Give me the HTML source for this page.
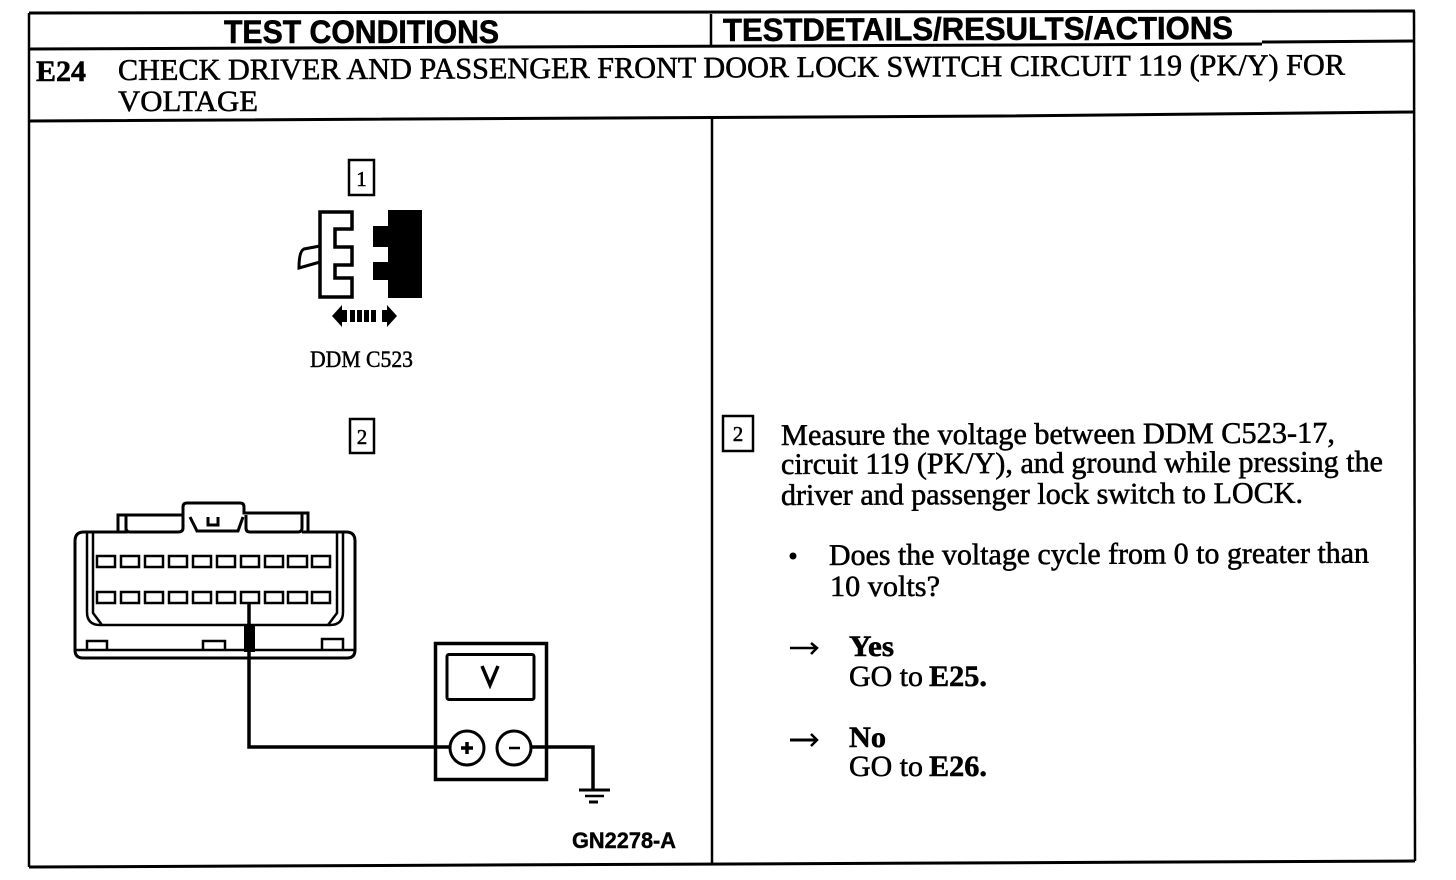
<!DOCTYPE html>
<html><head><meta charset="utf-8"><style>
html,body{margin:0;padding:0;background:#fff;width:1456px;height:880px;overflow:hidden}
svg{display:block}
text{fill:#000;font-family:"Liberation Serif",serif;font-size:30px;stroke:#000;stroke-width:.55}
.h{font-family:"Liberation Sans",sans-serif;font-weight:bold;font-size:32px;stroke-width:.6}
.b{font-weight:bold}
.s{font-size:23px;stroke-width:.5}
</style></head><body>
<svg width="1456" height="880" viewBox="0 0 1456 880" xmlns="http://www.w3.org/2000/svg">
<g fill="none" stroke="#000" stroke-width="2.5">
<polyline points="29,13 1415,11" stroke-width="3"/>
<polyline points="29,13 29,867" stroke-width="2.5"/>
<polyline points="1414,11 1415,861" stroke-width="2.5"/>
<polyline points="29,867 1415,861" stroke-width="3"/>
<polyline points="29,49 1262,44" stroke-width="3"/>
<polyline points="1262,42 1414,41" stroke-width="3"/>
<polyline points="29,121 1000,116 1414,112" stroke-width="3"/>
<line x1="711" y1="14" x2="711" y2="47"/>
<line x1="712" y1="118" x2="712" y2="864"/>
<rect x="349" y="160" width="25" height="35" stroke-width="2.5"/>
<rect x="350" y="419" width="24" height="34" stroke-width="2.5"/>
<rect x="723" y="416" width="30" height="35" stroke-width="2.5"/>
</g>

<text class="h" x="224" y="43" textLength="275" lengthAdjust="spacingAndGlyphs">TEST CONDITIONS</text>
<text class="h" x="723" y="41" textLength="510" lengthAdjust="spacingAndGlyphs" transform="rotate(-.25 723 41)">TESTDETAILS/RESULTS/ACTIONS</text>
<text class="b" x="36" y="81" textLength="50" lengthAdjust="spacingAndGlyphs">E24</text>
<text x="118" y="80" textLength="1227" lengthAdjust="spacingAndGlyphs" transform="rotate(-.25 118 80)">CHECK DRIVER AND PASSENGER FRONT DOOR LOCK SWITCH CIRCUIT 119 (PK/Y) FOR</text>
<text x="118" y="111" textLength="140" lengthAdjust="spacingAndGlyphs">VOLTAGE</text>

<text class="s" x="361.5" y="186" text-anchor="middle" style="font-size:21px">1</text>
<text class="s" x="362" y="444" text-anchor="middle" style="font-size:21px">2</text>
<text class="s" x="738" y="441" text-anchor="middle" style="font-size:21px">2</text>
<text class="s" x="310" y="367" textLength="103" lengthAdjust="spacingAndGlyphs">DDM C523</text>
<text class="h" style="font-size:22px;stroke-width:.4" x="572" y="848" textLength="104" lengthAdjust="spacingAndGlyphs">GN2278-A</text>

<text x="781" y="445" textLength="554" lengthAdjust="spacingAndGlyphs" transform="rotate(-.25 781 445)">Measure the voltage between DDM C523-17,</text>
<text x="781" y="474" textLength="602" lengthAdjust="spacingAndGlyphs" transform="rotate(-.25 781 474)">circuit 119 (PK/Y), and ground while pressing the</text>
<text x="781" y="505" textLength="522" lengthAdjust="spacingAndGlyphs" transform="rotate(-.25 781 505)">driver and passenger lock switch to LOCK.</text>
<circle cx="793" cy="556" r="3.5" fill="#000"/>
<text x="829" y="565" textLength="540" lengthAdjust="spacingAndGlyphs" transform="rotate(-.25 829 565)">Does the voltage cycle from 0 to greater than</text>
<text x="830" y="596" textLength="110" lengthAdjust="spacingAndGlyphs">10 volts?</text>
<text class="b" x="849" y="656" textLength="45" lengthAdjust="spacingAndGlyphs">Yes</text>
<text x="849" y="686" textLength="74" lengthAdjust="spacingAndGlyphs">GO to</text>
<text class="b" x="929" y="686" textLength="58" lengthAdjust="spacingAndGlyphs">E25.</text>
<text class="b" x="849" y="747" textLength="37" lengthAdjust="spacingAndGlyphs">No</text>
<text x="849" y="776" textLength="74" lengthAdjust="spacingAndGlyphs">GO to</text>
<text class="b" x="929" y="776" textLength="58" lengthAdjust="spacingAndGlyphs">E26.</text>
<g fill="none" stroke="#000">
<line x1="790" y1="648" x2="816" y2="648" stroke-width="2.5"/>
<polyline points="811,643 817,648 811,654" stroke-width="2.5"/>
<line x1="790" y1="740" x2="816" y2="740" stroke-width="3"/>
<polyline points="811,734 817,740 811,746" stroke-width="2.5"/>
</g>

<!-- connector 1 -->
<path d="M320,212H352V229H335V247H352V265H335V278H352V297H320Z" fill="#fff" stroke="#000" stroke-width="3.5"/>
<path d="M320,246L304,249Q299,251 299,268L320,262" fill="none" stroke="#000" stroke-width="3"/>
<path d="M388,210H422V298H388V280H373V262H388V247H373V226H388Z" fill="#000"/>
<path d="M332,316L342,305V327Z M397,316L387,305V327Z" fill="#000"/>
<g fill="#000"><rect x="340" y="310" width="7" height="12"/><rect x="350" y="310" width="5" height="12"/><rect x="357" y="310" width="5" height="12"/><rect x="364" y="310" width="5" height="12"/><rect x="371" y="310" width="5" height="12"/><rect x="382" y="310" width="7" height="12"/></g>

<!-- connector 2 -->
<g fill="none" stroke="#000" stroke-width="3">
<path d="M118,532V515H183V507Q183,503 187,503H240Q244,503 244,507V513H308V532H346Q355,532 355,541V650Q355,658 347,658H83Q75,658 75,650V541Q75,532 84,532H118Z" fill="#fff"/>
<path d="M118,532H126V515M126,516V528Q126,532 130,532H178Q183,532 183,528V515"/>
<path d="M246,515V528Q246,532 250,532H298Q302,532 302,528V514M302,532H310"/>
<path d="M190,517L197,531H238L243,517M208,517V525H218V517"/>
<path d="M87,533V612Q87,625 100,625H330Q343,625 343,612V533M93,533V613L102,625M337,533V613L328,625" stroke-width="2.5"/>
<path d="M76,650H354" stroke-width="2.5"/>
<path d="M87,650V641H107V650M203,650V641H225V650M322,650V639H343V650" stroke-width="2.5"/>
<g stroke-width="2.5">
<rect x="97" y="556" width="18" height="11"/><rect x="121" y="556" width="18" height="11"/><rect x="145" y="556" width="18" height="11"/><rect x="169" y="556" width="18" height="11"/><rect x="193" y="556" width="18" height="11"/><rect x="217" y="556" width="18" height="11"/><rect x="241" y="556" width="18" height="11"/><rect x="265" y="556" width="18" height="11"/><rect x="288" y="556" width="19" height="11"/><rect x="312" y="556" width="18" height="11"/>
<rect x="97" y="592" width="18" height="11"/><rect x="121" y="592" width="18" height="11"/><rect x="145" y="592" width="18" height="11"/><rect x="169" y="592" width="18" height="11"/><rect x="193" y="592" width="18" height="11"/><rect x="217" y="592" width="18" height="11"/><rect x="241" y="592" width="18" height="11"/><rect x="265" y="592" width="18" height="11"/><rect x="288" y="592" width="19" height="11"/><rect x="312" y="592" width="18" height="11"/>
</g>
</g>
<rect x="244" y="626" width="11" height="26" fill="#000"/>

<!-- wires -->
<polyline points="249,604 249,747 450,747" fill="none" stroke="#000" stroke-width="3.5"/>
<polyline points="531,747 593,747 593,789" fill="none" stroke="#000" stroke-width="3.5"/>
<g stroke="#000"><line x1="579" y1="790" x2="610" y2="790" stroke-width="3"/><line x1="585" y1="796" x2="604" y2="796" stroke-width="2.5"/><line x1="589" y1="802" x2="598" y2="802" stroke-width="3"/></g>

<!-- meter -->
<rect x="435.5" y="643.5" width="111" height="136" fill="none" stroke="#000" stroke-width="3.5"/>
<rect x="447" y="654.5" width="87" height="45" rx="2" fill="none" stroke="#000" stroke-width="3"/>
<polyline points="482,666 490,685 498,666" fill="none" stroke="#000" stroke-width="3.5"/>
<circle cx="467" cy="748" r="17" fill="#fff" stroke="#000" stroke-width="3"/>
<circle cx="514" cy="748" r="17" fill="#fff" stroke="#000" stroke-width="3"/>
<path d="M467,742V754M461,748H473" stroke="#000" stroke-width="3.5"/>
<line x1="509" y1="748" x2="520" y2="748" stroke="#000" stroke-width="2.5"/>
</svg>
</body></html>
